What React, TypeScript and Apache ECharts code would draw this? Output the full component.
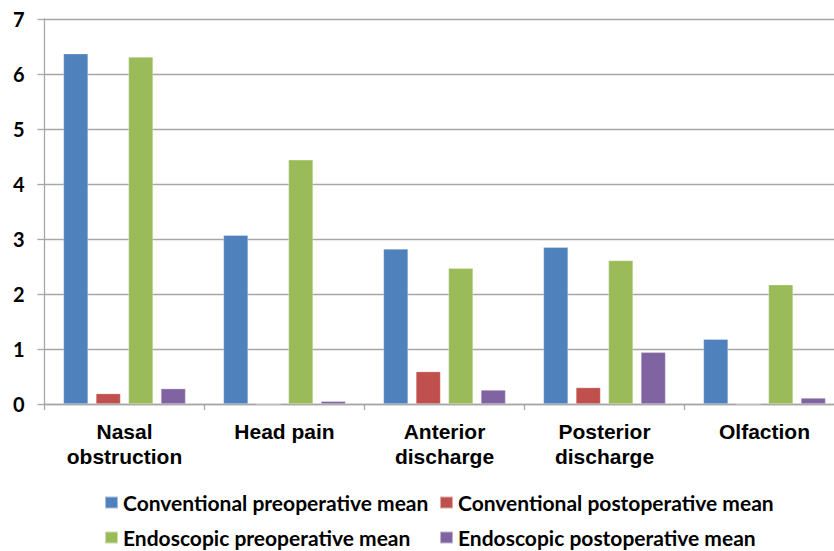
import React, { useEffect, useRef } from "react";
import * as echarts from "echarts";

const categories = ["Nasal\nobstruction", "Head pain", "Anterior\ndischarge", "Posterior\ndischarge", "Olfaction"];
const seriesNames = [
  "Conventional preoperative mean",
  "Conventional postoperative mean",
  "Endoscopic preoperative mean",
  "Endoscopic postoperative mean",
];
const convPre = [6.37, 3.07, 2.82, 2.85, 1.18];
const convPost = [0.19, 0, 0.59, 0.3, 0];
const endoPre = [6.31, 4.44, 2.47, 2.61, 2.17];
const endoPost = [0.28, 0.05, 0.255, 0.94, 0.11];
const colors = ["#4F81BD", "#C0504D", "#9BBB59", "#8064A2"];
const yTicks = [0, 7, 1];

export default function App() {
  const ref = useRef<HTMLDivElement>(null);
  useEffect(() => {
    if (!ref.current) return;
    const chart = echarts.init(ref.current, null, { renderer: "svg" });
    const values = [convPre, convPost, endoPre, endoPost];
    const legendPos = [
      { left: 104, top: 492 },
      { left: 439, top: 492 },
      { left: 104, top: 527 },
      { left: 439, top: 527 },
    ];
    chart.setOption({
      animation: false,
      color: colors,
      grid: {
        left: 44.5,
        top: 19,
        height: 385,
        width: 800,
        containLabel: false,
        outerBoundsMode: "none",
      },
      legend: seriesNames.map((n, i) => ({
        data: [n],
        left: legendPos[i].left,
        top: legendPos[i].top,
        itemWidth: 13,
        itemHeight: 12,
        itemGap: 5,
        padding: 0,
        icon: "rect",
        textStyle: {
          fontFamily: "Lato",
          fontWeight: "bold",
          fontSize: 21,
          lineHeight: 20,
          color: "#000",
          padding: [0, 0, 0, 0],
        },
      })),
      xAxis: {
        type: "category",
        data: categories,
        axisLine: { lineStyle: { color: "#A6A6A6", width: 1.3 } },
        axisTick: { show: true, length: 6, lineStyle: { color: "#A6A6A6", width: 1.3 } },
        axisLabel: {
          margin: 15,
          fontFamily: "Liberation Sans",
          fontWeight: "bold",
          fontSize: 21,
          lineHeight: 25,
          color: "#000",
          interval: 0,
        },
      },
      yAxis: {
        type: "value",
        min: yTicks[0],
        max: yTicks[1],
        interval: yTicks[2],
        axisLine: { show: true, lineStyle: { color: "#A6A6A6", width: 1.3 } },
        axisTick: { show: true, length: 7, lineStyle: { color: "#A6A6A6", width: 1.3 } },
        splitLine: { lineStyle: { color: "#A6A6A6", width: 1.3 } },
        axisLabel: {
          margin: 20,
          fontFamily: "Lato",
          fontWeight: "bold",
          fontSize: 20,
          color: "#000",
        },
      },
      series: seriesNames.map((n, i) => ({
        name: n,
        type: "bar",
        data: values[i],
        barWidth: 24.7,
        barGap: "31.6%",
        itemStyle: { color: colors[i], borderColor: "rgba(255,255,255,0.5)", borderWidth: 0.6 },
      })),
    });
    return () => chart.dispose();
  }, []);
  return (
    <div
      ref={ref}
      style={{ position: "fixed", left: 0, top: 0, width: 834, height: 551, background: "#fff" }}
    />
  );
}
